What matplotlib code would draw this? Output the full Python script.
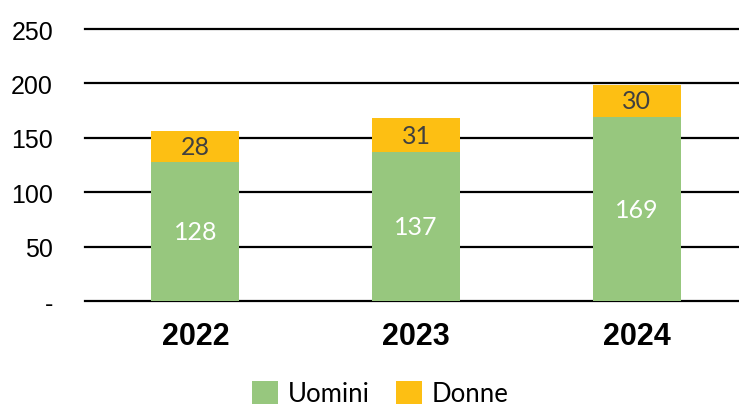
import numpy as np
import matplotlib.pyplot as plt

years = ['2022', '2023', '2024']
uomini = [128, 137, 169]
donne = [28, 31, 30]
yticks = [0, 50, 100, 150, 200, 250]
ytick_labels = ['-', '50', '100', '150', '200', '250']

green = '#97C77E'
gold = '#FDBF13'

fig = plt.figure(figsize=(7.39, 4.06), dpi=100)
ax = fig.add_axes([0.115, 0.256, 0.896, 0.670])

x = np.arange(len(years))
b1 = ax.bar(x, uomini, width=0.4, color=green, label='Uomini', zorder=2)
b2 = ax.bar(x, donne, width=0.4, bottom=uomini, color=gold, label='Donne', zorder=2)

for xi, u, d in zip(x, uomini, donne):
    ax.text(xi, u / 2, str(u), ha='center', va='center', color='white',
            fontsize=18, family=['Lato', 'DejaVu Sans'], zorder=3)
    ax.text(xi, u + d / 2, str(d), ha='center', va='center', color='#404040',
            fontsize=18, family=['Lato', 'DejaVu Sans'], zorder=3)

ax.set_xlim(-0.5, 2.5)
ax.set_ylim(0, 250)
ax.set_yticks(yticks)
ax.set_yticklabels(ytick_labels, fontsize=18, family=['Liberation Sans', 'DejaVu Sans'])
ax.set_xticks(x)
ax.set_xticklabels(years, fontsize=22, fontweight='bold', family=['Liberation Sans', 'DejaVu Sans'])
ax.tick_params(axis='y', length=0, pad=23)
ax.tick_params(axis='x', length=0, pad=14)
ax.grid(axis='y', color='black', linewidth=1.6, zorder=1)
for line in ax.get_ygridlines():
    line.set_clip_on(False)
for s in ax.spines.values():
    s.set_visible(False)

fig.legend(handles=[b1, b2], labels=['Uomini', 'Donne'], loc='lower center',
           bbox_to_anchor=(0.515, -0.06), ncol=2, frameon=False,
           prop={'family': ['Lato', 'DejaVu Sans'], 'size': 18.5},
           handlelength=1.0, handleheight=1.0, handletextpad=0.4, columnspacing=1.0)

fig.savefig('out.png', dpi=100)
